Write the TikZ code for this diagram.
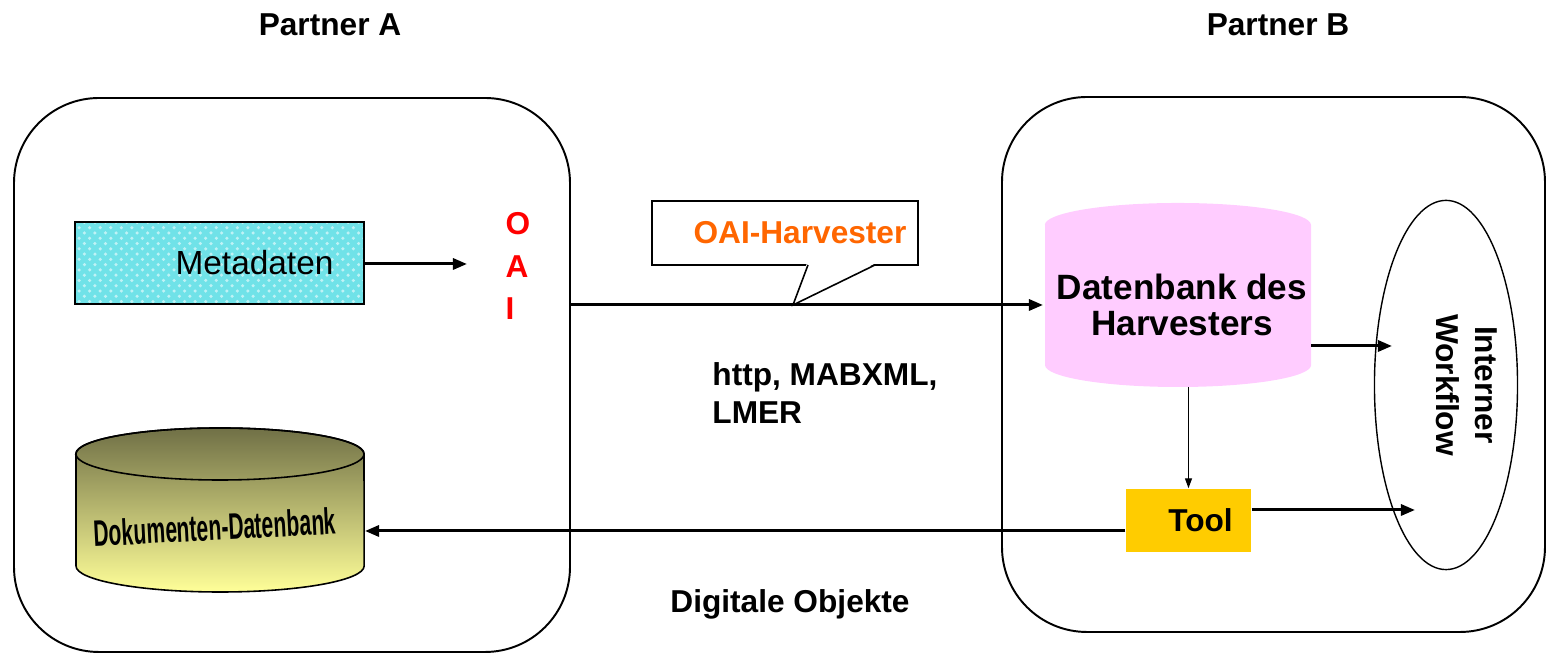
\documentclass[tikz,border=0pt]{standalone}
\usepackage{fontspec}
\setmainfont{Liberation Sans}
\usepackage{graphicx}
\usetikzlibrary{arrows.meta,shapes.geometric,patterns}

\definecolor{metacyan}{RGB}{112,226,232}
\definecolor{dbpink}{RGB}{255,204,255}
\definecolor{toolyellow}{RGB}{255,204,0}
\definecolor{harvorange}{RGB}{255,102,0}
\definecolor{oaired}{RGB}{255,0,0}
\definecolor{dbolive}{RGB}{112,112,70}
\definecolor{dbyellow}{RGB}{255,255,153}

\begin{document}
\begin{tikzpicture}[x=0.01cm, y=0.01cm,
        lbl/.style={font=\fontsize{9}{11}\selectfont\bfseries},
        frame/.style={draw, line width=0.55pt, rounded corners=0.85cm},
        arr/.style={line width=0.85pt, -{Triangle[length=0.14cm, width=0.11cm]}},
        thinarr/.style={line width=0.35pt, -{Triangle[length=0.1cm, width=0.07cm]}}]
    \useasboundingbox (0,0) rectangle (1547,655);

    \draw[frame] (14,3) rectangle (570,557);
    \draw[frame] (1002,23) rectangle (1545,558);
    \node[lbl] (partnerA) at (330,630) {Partner A};
    \node[lbl] (partnerB) at (1278,630) {Partner B};

    \coordinate (oaiin) at (467,391);
    \coordinate (oaiout) at (570,350);
    \coordinate (harvin) at (1043,350);
    \coordinate (harvout) at (1311,309);
    \coordinate (harvbot) at (1187,268);
    \coordinate (wfin1) at (1392,309);
    \coordinate (wfin2) at (1415,145);
    \coordinate (dokin) at (365,124);

    % partner A
    \node[fill=metacyan,
        postaction={pattern=crosshatch dots, pattern color=white!55!metacyan},
        postaction={draw, line width=0.45pt},
        minimum width=2.89cm, minimum height=0.82cm,
        font=\fontsize{9.5}{11}\selectfont] (meta) at (219.5,392) {\hspace*{0.7cm}Metadaten};
    \node[text=oaired, align=left, font=\fontsize{9}{12}\selectfont\bfseries] (oai) at (518,389) {O\\A\\I};

    \shadedraw[top color=dbolive, bottom color=dbyellow, line width=0.45pt]
        (76,201) -- (76,89) arc[start angle=180, end angle=360, x radius=1.44cm, y radius=0.26cm]
        -- (364,201) arc[start angle=0, end angle=180, x radius=1.44cm, y radius=0.26cm] -- cycle;
    \draw[line width=0.45pt] (220,201) ellipse [x radius=1.44cm, y radius=0.26cm];
    \node[font=\fontsize{10.5}{12}\selectfont\bfseries, rotate=3] (dokdb) at (215,128) {\scalebox{0.57}[1]{Dokumenten-Datenbank}};

    % middle
    \node[draw, fill=white, line width=0.45pt, minimum width=2.66cm, minimum height=0.64cm,
        text=harvorange, lbl] (harvlabel) at (785,422) {\hspace*{0.3cm}OAI-Harvester};
    \fill[white] (807,392) -- (793,350) -- (876,392) -- cycle;
    \draw[line width=0.45pt] (808,390) -- (793,350) -- (875,390);
    \node[lbl, align=left, anchor=west] (proto) at (700,262) {http, MABXML,\\LMER};
    \node[lbl] (digobj) at (790,51) {Digitale Objekte};

    % partner B
    \fill[dbpink] (1045,430) -- (1045,290) arc[start angle=180, end angle=360, x radius=1.33cm, y radius=0.22cm]
        -- (1311,430) arc[start angle=0, end angle=180, x radius=1.33cm, y radius=0.22cm] -- cycle;
    \node[align=center, font=\fontsize{10}{10}\selectfont\bfseries] (harvdb) at (1182,350) {Datenbank des\\Harvesters};
    \node[draw, ellipse, line width=0.4pt, inner sep=0pt, minimum width=1.43cm, minimum height=3.69cm] (workflow) at (1446,270) {};
    \node[lbl, rotate=-90, align=center] (wftext) at (1467,270) {Interner\\Workflow};
    \node[fill=toolyellow, minimum width=1.25cm, minimum height=0.63cm, lbl] (tool) at (1188.5,134.5) {\hspace*{0.24cm}Tool};

    % arrows
    \draw[arr] (meta.east |- oaiin) -- (oaiin);
    \draw[arr] (oaiout) -- (harvin);
    \draw[arr] (harvout) -- (wfin1);
    \draw[thinarr] (tool.north |- harvbot) -- (tool.north);
    \draw[arr] (tool.east |- wfin2) -- (wfin2);
    \draw[arr] (tool.west |- dokin) -- (dokin);
\end{tikzpicture}
\end{document}
